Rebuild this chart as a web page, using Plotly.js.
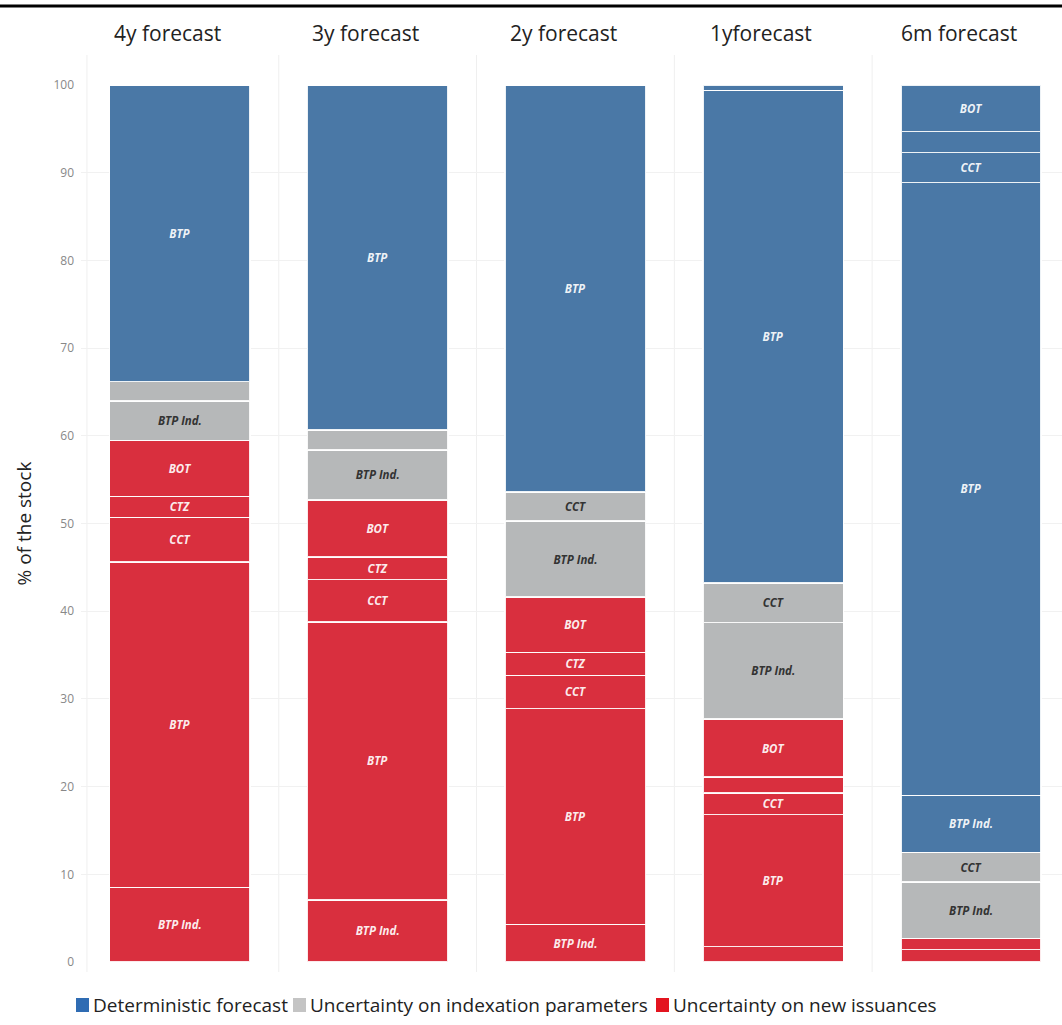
<!DOCTYPE html>
<html>
<head>
<meta charset="utf-8">
<script src="https://cdn.plot.ly/plotly-3.0.1.min.js"></script>
<style>html,body{margin:0;padding:0;background:#fff;}#chart{width:1062px;height:1025px;}</style>
</head>
<body>
<div id="chart"></div>
<script>
// Panels (horizons)
const horizons = ['4y forecast', '3y forecast', '2y forecast', '1yforecast', '6m forecast'];

// Uncertainty on new issuances (red), bottom to top, % of stock
const newBTPInd = [8.5, 7.1, 4.3, 1.75, 1.4];
const newBTP    = [37.1, 31.7, 24.6, 15.05, 1.3];
const newCCT    = [5.1, 4.8, 3.8, 2.45, 0];
const newCTZ    = [2.4, 2.6, 2.6, 1.85, 0];
const newBOT    = [6.4, 6.5, 6.3, 6.6, 0];

// Uncertainty on indexation parameters (grey)
const idxBTPInd = [4.5, 5.7, 8.7, 11.0, 6.4];
const idxCCT    = [2.2, 2.3, 3.3, 4.5, 3.4];

// Deterministic forecast (blue)
const detBTPInd = [0, 0, 0, 0, 6.5];
const detBTP    = [33.8, 39.3, 46.4, 56.2, 69.9];
const detCCT    = [0, 0, 0, 0, 3.4];
const detCTZ    = [0, 0, 0, 0, 2.4];
const detBOT    = [0, 0, 0, 0.6, 5.3];

// Segment labels shown inside the bars ('' = not labelled)
const lblNewBTPInd = ['BTP Ind.', 'BTP Ind.', 'BTP Ind.', '', ''];
const lblNewBTP    = ['BTP', 'BTP', 'BTP', 'BTP', ''];
const lblNewCCT    = ['CCT', 'CCT', 'CCT', 'CCT', ''];
const lblNewCTZ    = ['CTZ', 'CTZ', 'CTZ', '', ''];
const lblNewBOT    = ['BOT', 'BOT', 'BOT', 'BOT', ''];
const lblIdxBTPInd = ['BTP Ind.', 'BTP Ind.', 'BTP Ind.', 'BTP Ind.', 'BTP Ind.'];
const lblIdxCCT    = ['', '', 'CCT', 'CCT', 'CCT'];
const lblDetBTPInd = ['', '', '', '', 'BTP Ind.'];
const lblDetBTP    = ['BTP', 'BTP', 'BTP', 'BTP', 'BTP'];
const lblDetCCT    = ['', '', '', '', 'CCT'];
const lblDetCTZ    = ['', '', '', '', ''];
const lblDetBOT    = ['', '', '', '', 'BOT'];

// Legend entries
const groupNames = ['Deterministic forecast', 'Uncertainty on indexation parameters', 'Uncertainty on new issuances'];
const legendColors = ['#2f6cb3', '#c4c4c4', '#e3141f'];

const BLUE = '#4a78a6', GREY = '#b6b8b9', RED = '#d92f3e';

function seg(vals, labels, color, textColor, group) {
  return {
    type: 'bar', x: horizons, y: vals, text: labels,
    textposition: 'inside', insidetextanchor: 'middle', textangle: 0,
    constraintext: 'none',
    textfont: {family: 'Open Sans, sans-serif', size: 11.5, color: textColor, style: 'italic', weight: 'bold'},
    marker: {color: color, line: {color: 'rgba(255,255,255,0.9)', width: 1.5}},
    name: group, showlegend: false,
    hoverinfo: 'none', cliponaxis: false
  };
}
const WT = 'rgba(255,255,255,0.92)', DT = '#333333';
const data = [
  seg(newBTPInd, lblNewBTPInd, RED, WT, groupNames[2]),
  seg(newBTP, lblNewBTP, RED, WT, groupNames[2]),
  seg(newCCT, lblNewCCT, RED, WT, groupNames[2]),
  seg(newCTZ, lblNewCTZ, RED, WT, groupNames[2]),
  seg(newBOT, lblNewBOT, RED, WT, groupNames[2]),
  seg(idxBTPInd, lblIdxBTPInd, GREY, DT, groupNames[1]),
  seg(idxCCT, lblIdxCCT, GREY, DT, groupNames[1]),
  seg(detBTPInd, lblDetBTPInd, BLUE, WT, groupNames[0]),
  seg(detBTP, lblDetBTP, BLUE, WT, groupNames[0]),
  seg(detCCT, lblDetCCT, BLUE, WT, groupNames[0]),
  seg(detCTZ, lblDetCTZ, BLUE, WT, groupNames[0]),
  seg(detBOT, lblDetBOT, BLUE, WT, groupNames[0])
];

// layout geometry (pixels)
const W = 1062, H = 1025, ML = 81, MR = 0, MT = 85, MB = 63;
const PW = W - ML - MR, PH = H - MT - MB;
const px = function (x) { return (x - ML) / PW; };
const py = function (y) { return (H - MB - y) / PH; };

const shapes = [
  {type: 'line', xref: 'paper', yref: 'paper', x0: px(0), x1: 1, y0: py(6), y1: py(6),
   line: {color: '#000', width: 3}}
];
[-0.47, 0.5, 1.5, 2.5, 3.5].forEach(function (xv) {
  shapes.push({type: 'line', xref: 'x', yref: 'paper', x0: xv, x1: xv, y0: py(972), y1: py(55),
    line: {color: '#efefef', width: 1}, layer: 'below'});
});

const annotations = horizons.map(function (h) {
  return {text: h, x: h, xref: 'x', y: py(33), yref: 'paper', xshift: -12,
    showarrow: false, xanchor: 'center', yanchor: 'middle',
    font: {family: 'Open Sans, sans-serif', size: 21, color: '#222'}};
});

// manual legend: square + text, placed as in the source
const legSquareX = [76, 293, 656];
legSquareX.forEach(function (sx, i) {
  shapes.push({type: 'rect', xref: 'paper', yref: 'paper',
    x0: px(sx), x1: px(sx + 13), y0: py(1012), y1: py(998),
    fillcolor: legendColors[i], line: {width: 0}});
  annotations.push({text: groupNames[i], xref: 'paper', yref: 'paper',
    x: px(sx + 15), y: py(1005), xanchor: 'left', yanchor: 'middle', showarrow: false,
    font: {family: 'Open Sans, sans-serif', size: 19, color: '#222'}});
});

const layout = {
  width: W, height: H,
  margin: {l: ML, r: MR, t: MT, b: MB},
  paper_bgcolor: '#fff', plot_bgcolor: '#fff',
  barmode: 'stack', bargap: 0.29,
  showlegend: false,
  xaxis: {range: [-0.5, 4.46], showticklabels: false, showgrid: false, zeroline: false,
    showline: false, ticks: '', fixedrange: true},
  yaxis: {range: [0, 100.02], tickvals: [0, 10, 20, 30, 40, 50, 60, 70, 80, 90, 100],
    showgrid: true, gridcolor: '#f1f1f1', gridwidth: 1,
    zeroline: false, showline: false, ticks: '',
    tickfont: {family: 'Open Sans, sans-serif', size: 12, color: '#888888'},
    ticklabelstandoff: 6,
    title: {text: '% of the stock', standoff: 16,
      font: {family: 'Open Sans, sans-serif', size: 19, color: '#222'}}},
  shapes: shapes,
  annotations: annotations,
  font: {family: 'Open Sans, sans-serif'}
};

Plotly.newPlot('chart', data, layout, {displayModeBar: false, staticPlot: true});
</script>
</body>
</html>
